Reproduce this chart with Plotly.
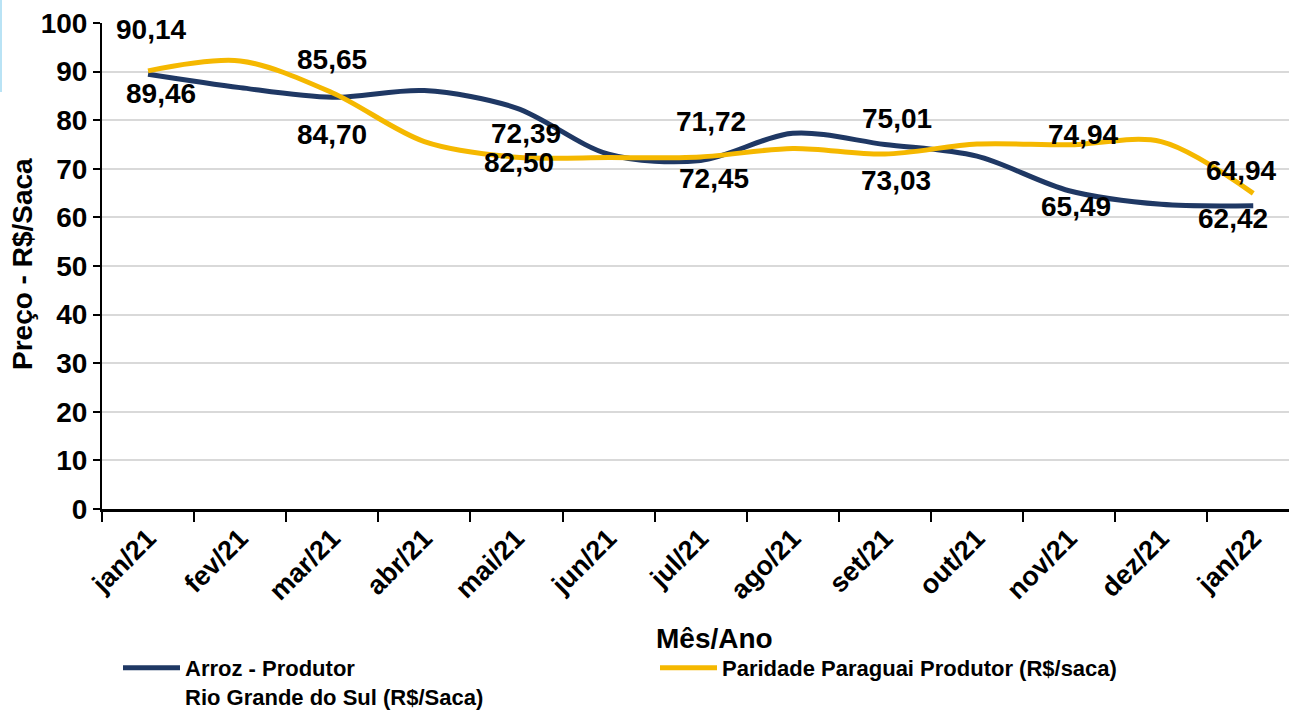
import plotly.graph_objects as go

meses = ["jan/21", "fev/21", "mar/21", "abr/21", "mai/21", "jun/21", "jul/21",
         "ago/21", "set/21", "out/21", "nov/21", "dez/21", "jan/22"]
arroz_rs = [89.46, 86.7, 84.70, 86.1, 82.50, 73.0, 71.72, 77.3, 75.01, 72.6, 65.49, 62.7, 62.42]
paridade_py = [90.14, 92.2, 85.65, 75.6, 72.39, 72.3, 72.45, 74.2, 73.03, 75.1, 74.94, 75.6, 64.94]

# indices of months that carry a data label
rotulos_idx = [0, 2, 4, 6, 8, 10, 12]
# manual label offsets (px) as in the original (dx, dy)
off_arroz = [(13, -19), (0, -37), (3, -54), (10, 39), (12, 26), (7, -16), (-20, -13)]
off_py = [(3, 41), (0, 33), (10, 24), (13, -22), (11, -26), (14, 10), (-12, 23)]

NAVY = "#1f3864"
GOLD = "#f5b800"
FONT = "Liberation Sans, Arial, sans-serif"

L, T, B = 102, 23, 201
W, H = 1289, 710
PW, PH = W - L, H - T - B


def px(x):
    return (x - L) / PW


def py(y):
    return (H - B - y) / PH


fig = go.Figure()
fig.add_trace(go.Scatter(
    x=meses, y=arroz_rs, mode="lines", name="Arroz - Produtor<br>Rio Grande do Sul (R$/Saca)",
    line=dict(color=NAVY, width=5, shape="spline", smoothing=0.9)))
fig.add_trace(go.Scatter(
    x=meses, y=paridade_py, mode="lines", name="Paridade Paraguai Produtor (R$/saca)",
    line=dict(color=GOLD, width=5, shape="spline", smoothing=0.9)))


def fmt(v):
    return f"{v:.2f}".replace(".", ",")


annots = []
for k, i in enumerate(rotulos_idx):
    for serie, offs in ((arroz_rs, off_arroz), (paridade_py, off_py)):
        dx, dy = offs[k]
        annots.append(dict(x=meses[i], y=serie[i], text=fmt(serie[i]), showarrow=False,
                           xshift=dx, yshift=dy, xref="x", yref="y",
                           font=dict(size=28, color="black", family=FONT, weight="bold")))

annots.append(dict(text="Preço - R$/Saca", textangle=-90, showarrow=False,
                   xref="paper", yref="paper", x=px(22), y=py(264),
                   xanchor="center", yanchor="middle",
                   font=dict(size=28, color="black", family=FONT, weight="bold")))
annots.append(dict(text="Mês/Ano", showarrow=False,
                   xref="paper", yref="paper", x=px(715), y=py(638),
                   xanchor="center", yanchor="middle",
                   font=dict(size=28, color="black", family=FONT, weight="bold")))

fig.update_layout(
    width=W, height=H,
    margin=dict(l=L, r=0, t=T, b=B, autoexpand=False),
    paper_bgcolor="white", plot_bgcolor="white",
    font=dict(family=FONT, color="black", weight="bold"),
    annotations=annots,
    showlegend=True,
    legend=dict(orientation="h", x=px(118), y=py(647),
                xanchor="left", yanchor="top", valign="top",
                font=dict(size=22, family=FONT, color="black", weight="bold"),
                itemwidth=57, entrywidth=465, entrywidthmode="pixels", tracegroupgap=0,
                bgcolor="rgba(0,0,0,0)"),
    shapes=[dict(type="line", xref="paper", yref="paper",
                 x0=px(1), x1=px(1), y0=py(0), y1=py(92),
                 line=dict(color="#b9e3f5", width=2))],
)
fig.update_xaxes(
    type="category", range=[-0.5, -0.5 + PW / 92.1], automargin=False,
    tickangle=-45, tickson="boundaries", ticks="outside", ticklen=10, tickwidth=2,
    tickcolor="black", showline=True, linecolor="black", linewidth=2.5,
    showgrid=False, tickfont=dict(size=27, family=FONT, color="black", weight="bold"))
fig.update_yaxes(
    range=[0, 100], dtick=10, ticks="outside", ticklen=7, tickwidth=2, tickcolor="black",
    showline=True, linecolor="black", linewidth=2, showgrid=True, gridcolor="#d9d9d9",
    gridwidth=2, zeroline=False, automargin=False,
    tickfont=dict(size=28, family=FONT, color="black", weight="bold"))

fig.write_html("out.html", config={"displayModeBar": False},
               post_script="document.body.style.margin='0';document.body.style.overflow='hidden';")
